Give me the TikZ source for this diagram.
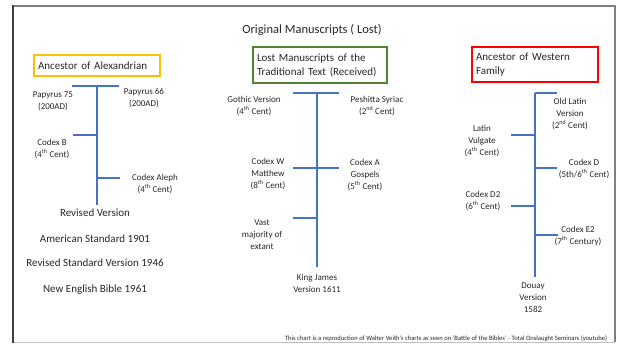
\documentclass[tikz,border=0pt]{standalone}
\usepackage{fontspec}
\setmainfont{Carlito}
\usetikzlibrary{positioning}
\definecolor{chartblue}{HTML}{4472C4}
\definecolor{chartgold}{HTML}{FFC000}
\definecolor{chartgreen}{HTML}{548235}
\definecolor{chartred}{HTML}{FF0000}
\definecolor{charttext}{HTML}{262626}
\tikzset{
  stem/.style={draw=chartblue, line width=2pt},
  lbl/.style={font=\fontsize{9}{12}\selectfont, text=charttext, align=center, inner sep=0pt},
  lst/.style={font=\fontsize{11}{13}\selectfont, text=charttext, inner sep=0pt,
              text height=8pt, text depth=2pt},
  ttl/.style={font=\fontsize{12.5}{14}\selectfont, text=charttext, inner sep=0pt},
  fam/.style={rectangle, line width=1.3pt, align=left, text=charttext,
              font=\fontsize{11}{14}\selectfont, inner xsep=4pt, inner ysep=1pt},
  famy/.style={fam, draw=chartgold, text width=118pt, minimum height=21pt},
  famg/.style={fam, draw=chartgreen, text width=126pt, minimum height=36pt},
  famr/.style={fam, draw=chartred, text width=118pt, minimum height=35pt},
  note/.style={font=\fontsize{6.6}{7}\selectfont, text=charttext, inner sep=0pt},
  framel/.style={draw=black!75, line width=2.3pt},
  framer/.style={draw=black!50, line width=1.6pt},
}
\newcommand{\cent}[2]{(#1\textsuperscript{#2} Cent)}

\begin{document}
\begin{tikzpicture}[x=1pt, y=-1pt]
    \useasboundingbox (0,0) rectangle (620,344);
    % frame
    \draw[framer] (13,6) -- (615,6) -- (615,342);
    \draw[draw=black!25, line width=0.8pt] (13,342) -- (615,342);
    \draw[framel] (13,5) -- (13,343);

    % top
    \node[ttl] (title) at (312,30) {Original Manuscripts ( Lost)};
    % three families
    \node[famy] (alex) at (97,65.5) {Ancestor of Alexandrian};
    \node[famg] (trad) at (320,65) {Lost Manuscripts of the\\Traditional Text (Received)};
    \node[famr] (west) at (535,64.5) {Ancestor of Western\\Family};

    % alexandrian line
    \coordinate (a0) at (97,86);
    \coordinate (a1) at (97,205);
    \coordinate (atl) at (72,86);
    \coordinate (atr) at (119,86);
    \coordinate (ab) at (73,135);
    \coordinate (aa) at (120,178);
    \draw[stem] (a0) -- (a1);
    \draw[stem] (atl) -- (atr);
    \foreach \t in {ab, aa} \draw[stem] (\t) -- (\t -| a0);
    \node[lbl] (p75) at (53,101) {Papyrus 75\\(200AD)};
    \node[lbl] (p66) at (144,98) {Papyrus 66\\(200AD)};
    \node[lbl] (codb) at (52,149) {Codex B\\\cent{4}{th}};
    \node[lbl] (aleph) at (155,184) {Codex Aleph\\\cent{4}{th}};
    % later versions
    \node[lst] (revver) at (95,214) {Revised Version};
    \node[lst, below=15pt of revver] (amstd) {American Standard 1901};
    \node[lst, below=14pt of amstd] (rsv) {Revised Standard Version 1946};
    \node[lst, below=15pt of rsv] (neb) {New English Bible 1961};

    % traditional line
    \coordinate (t0) at (317,93);
    \coordinate (t1) at (317,267);
    \coordinate (ttl) at (293,93);
    \coordinate (ttr) at (339,93);
    \coordinate (twl) at (293,168);
    \coordinate (twr) at (339,168);
    \coordinate (tv) at (293,218);
    \draw[stem] (t0) -- (t1);
    \draw[stem] (ttl) -- (ttr);
    \draw[stem] (twl) -- (twr);
    \draw[stem] (tv) -- (tv -| t0);
    \node[lbl] (gothic) at (254,106) {Gothic Version\\\cent{4}{th}};
    \node[lbl] (peshitta) at (377,106) {Peshitta Syriac\\\cent{2}{nd}};
    \node[lbl] (codw) at (268,174) {Codex W\\Matthew\\\cent{8}{th}};
    \node[lbl] (coda) at (365,175) {Codex A\\Gospels\\\cent{5}{th}};
    \node[lbl] (vast) at (262,235) {Vast\\majority of\\extant};
    \node[lbl] (kjv) at (317,283) {King James\\Version 1611};

    % western line
    \coordinate (w0) at (535,93);
    \coordinate (w1) at (535,277);
    \coordinate (wo) at (557,93);
    \coordinate (wv) at (511,135);
    \coordinate (wd) at (557,168);
    \coordinate (wdd) at (511,206);
    \coordinate (we) at (558,235);
    \draw[stem] (w0) -- (w1);
    \foreach \t in {wo, wv, wd, wdd, we} \draw[stem] (\t) -- (\t -| w0);
    \node[lbl] (oldlat) at (570,114) {Old Latin\\Version\\\cent{2}{nd}};
    \node[lbl] (vulg) at (482,141) {Latin\\Vulgate\\\cent{4}{th}};
    \node[lbl] (codd) at (584,169) {Codex D\\(5th/6\textsuperscript{th} Cent)};
    \node[lbl] (coddd) at (483,201) {Codex D2\\\cent{6}{th}};
    \node[lbl] (code) at (578,236) {Codex E2\\(7\textsuperscript{th} Century)};
    \node[lbl] (douay) at (533,298) {Douay\\Version\\1582};

    % source
    \node[note] (src) at (446,339) {This chart is a reproduction of Walter Veith's charts as seen on `Battle of the Bibles' - Total Onslaught Seminars (youtube)};
\end{tikzpicture}
\end{document}
